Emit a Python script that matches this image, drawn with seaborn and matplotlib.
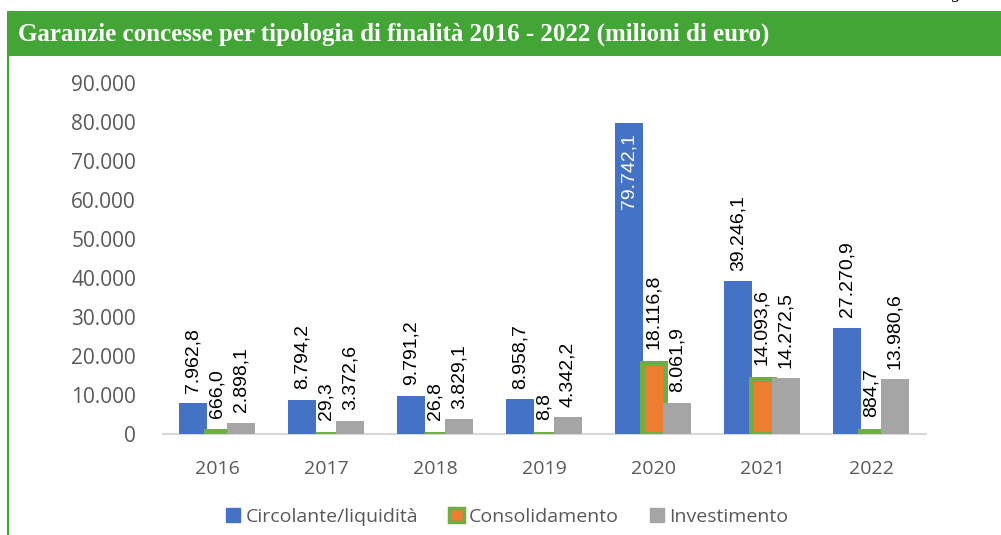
import matplotlib
matplotlib.use("Agg")
import matplotlib.pyplot as plt
from matplotlib.patches import Rectangle, Patch
import seaborn as sns
import pandas as pd

# --- data (milioni di euro) ---
anni = ["2016", "2017", "2018", "2019", "2020", "2021", "2022"]
circolante = [7962.8, 8794.2, 9791.2, 8958.7, 79742.1, 39246.1, 27270.9]
consolidamento = [666.0, 29.3, 26.8, 8.8, 18116.8, 14093.6, 884.7]
investimento = [2898.1, 3372.6, 3829.1, 4342.2, 8061.9, 14272.5, 13980.6]
serie = ["Circolante/liquidità", "Consolidamento", "Investimento"]
y_ticks = [0, 10000, 20000, 30000, 40000, 50000, 60000, 70000, 80000, 90000]
titolo = "Garanzie concesse per tipologia di finalità 2016 - 2022 (milioni di euro)"

BLUE, ORANGE, GREEN, GREY = "#4472C4", "#ED7D31", "#70AD47", "#A5A5A5"
HEADER = "#43A536"
TXT = "#595959"

df = pd.DataFrame({
    "anno": anni * 3,
    "valore": circolante + consolidamento + investimento,
    "serie": [serie[0]] * 7 + [serie[1]] * 7 + [serie[2]] * 7,
})

sns.set_theme(style="white")
plt.rcParams["font.family"] = ["Open Sans", "DejaVu Sans"]

W, H = 1001, 535
fig = plt.figure(figsize=(W / 100, H / 100), dpi=100)
ax = fig.add_axes([162.5 / W, (H - 434) / H, 763 / W, 351 / H])

sns.barplot(data=df, x="anno", y="valore", hue="serie", hue_order=serie,
            palette=[BLUE, ORANGE, GREY], width=0.66, ax=ax, legend=False,
            saturation=1)

px = 1 / 109.0  # one pixel in category units
edge_px = 5
for i, cont in enumerate(ax.containers):
    for bar in cont:
        cx = bar.get_x() + bar.get_width() / 2
        if i == 1:
            w = (28 - edge_px) * px
            bar.set_edgecolor(GREEN)
            bar.set_linewidth(edge_px * 0.72)
            bar.set_joinstyle("miter")
        else:
            w = 28 * px
            bar.set_linewidth(0)
        bar.set_width(w)
        bar.set_x(cx - w / 2)


def fmt(v):
    s = f"{v:,.1f}"
    return s.replace(",", "X").replace(".", ",").replace("X", ".")


lab_font = dict(family=["Liberation Sans", "DejaVu Sans"], fontsize=14)
for i, (cont, vals) in enumerate(zip(ax.containers,
                                     [circolante, consolidamento, investimento])):
    gap = 10 if i == 1 else 7.5
    for bar, v in zip(cont, vals):
        cx = bar.get_x() + bar.get_width() / 2
        if v > 70000:
            ax.annotate(fmt(v), (cx, v), xytext=(0, -7.5), textcoords="offset points",
                        rotation=90, ha="center", va="top", color="white",
                        annotation_clip=False, **lab_font)
        else:
            ax.annotate(fmt(v), (cx, v), xytext=(0, gap), textcoords="offset points",
                        rotation=90, ha="center", va="bottom", color="black",
                        annotation_clip=False, **lab_font)

ax.set_ylim(0, 90000)
ax.set_xlim(-0.5, len(anni) - 0.5)
ax.set_yticks(y_ticks)
ax.set_yticklabels(["0" if t == 0 else f"{t:,}".replace(",", ".") for t in y_ticks])
ax.set_xlabel("")
ax.set_ylabel("")
ax.tick_params(axis="y", length=0, pad=19, labelsize=15, labelcolor=TXT)
ax.tick_params(axis="x", length=0, pad=19, labelsize=14, labelcolor=TXT)
for s in ["top", "right", "left"]:
    ax.spines[s].set_visible(False)
ax.spines["bottom"].set_color("#D9D9D9")
ax.spines["bottom"].set_linewidth(1.5)
ax.spines["bottom"].set_zorder(0)

# legend
handles = [
    Patch(facecolor=BLUE, edgecolor=BLUE, label=serie[0]),
    Patch(facecolor=ORANGE, edgecolor=GREEN, linewidth=2.5, label=serie[1]),
    Patch(facecolor=GREY, edgecolor=GREY, label=serie[2]),
]
fig.legend(handles=handles, loc="center", bbox_to_anchor=(507 / W, 1 - 517 / H),
           ncol=3, frameon=False, fontsize=14, labelcolor=TXT,
           handlelength=0.75, handleheight=0.75, handletextpad=0.25,
           columnspacing=1.6)

# header band and frame line
fig.patches.append(Rectangle((7 / W, 1 - 56 / H), (W - 7) / W, 45 / H,
                             transform=fig.transFigure, facecolor=HEADER,
                             edgecolor="none", zorder=0))
fig.patches.append(Rectangle((7 / W, 0), 2 / W, 1 - 56 / H,
                             transform=fig.transFigure, facecolor=HEADER,
                             edgecolor="none", zorder=0))
fig.text(18 / W, 1 - 34 / H, titolo, color="white", fontsize=18,
         fontweight="bold", family=["Liberation Serif", "DejaVu Serif"],
         ha="left", va="center")
fig.text(956 / W, 1 + 2 / H, "g", color="black", fontsize=13, style="italic",
         family=["Liberation Serif", "DejaVu Serif"], ha="center", va="baseline")

fig.savefig("out.png", dpi=100)
